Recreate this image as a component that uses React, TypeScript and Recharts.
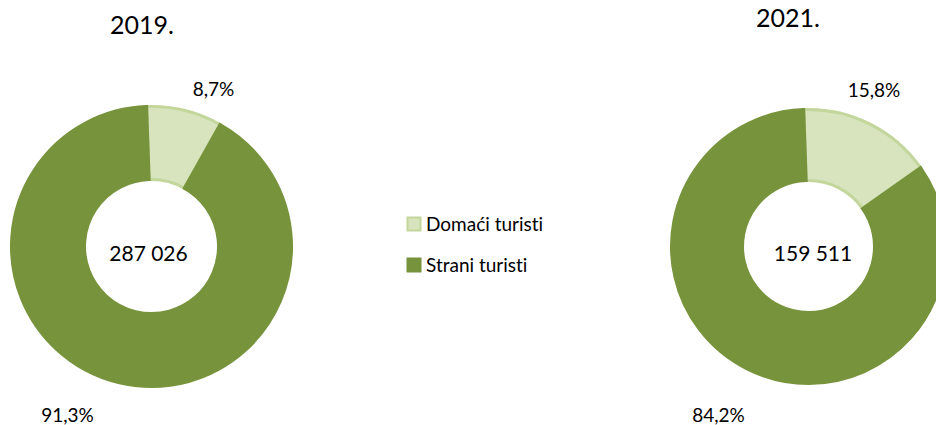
import React from 'react';
import { PieChart, Pie, Cell, Legend } from 'recharts';

const categories = ['Domaći turisti', 'Strani turisti'];
const years = ['2019.', '2021.'];
const share2019 = [8.7, 91.3];
const share2021 = [15.8, 84.2];
const totals = ['287 026', '159 511'];

const FILLS = ['#d7e4bd', '#77933c'];
const STROKES = ['#c3d69b', '#77933c'];
const FONT = 'Lato, "Open Sans", sans-serif';
const TEXT_STYLE: React.CSSProperties = { fontVariantLigatures: 'none' };

const data2019 = categories.map((name, i) => ({ name, value: share2019[i] }));
const data2021 = categories.map((name, i) => ({ name, value: share2021[i] }));

const W = 936;
const H = 425;

// layout
const PIE1 = { cx: 151.5, cy: 246.5 };
const PIE2 = { cx: 808.5, cy: 246.5 };
const labelOffsets2019 = [
  [62, -151],
  [-84, 175],
];
const labelOffsets2021 = [
  [65.5, -150],
  [-90, 175],
];

const fmt = (v: number) => v.toFixed(1).replace('.', ',') + '%';

const makeLabel = (offsets: number[][]) => (props: any) => {
  const { cx, cy, index, value } = props;
  const [dx, dy] = offsets[index];
  return (
    <text
      x={cx + dx}
      y={cy + dy}
      textAnchor="middle"
      fontSize={19}
      fontFamily={FONT}
      fill="#000"
      style={TEXT_STYLE}
    >
      {fmt(value)}
    </text>
  );
};

const LegendContent = () => (
  <svg width={240} height={80} style={{ display: 'block', overflow: 'visible' }}>
    {categories.map((name, i) => (
      <g key={name}>
        <rect
          x={1.5}
          y={1.5 + i * 41}
          width={13}
          height={13}
          fill={FILLS[i]}
          stroke={STROKES[i]}
          strokeWidth={2}
        />
        <text x={20} y={14.5 + i * 41} fontSize={19} fontFamily={FONT} fill="#000" style={TEXT_STYLE}>
          {name}
        </text>
      </g>
    ))}
  </svg>
);

export default function App() {
  return (
    <div style={{ position: 'fixed', left: 0, top: 0, width: W, height: H, background: '#fff' }}>
      <PieChart width={W} height={H} margin={{ top: 0, right: 0, bottom: 0, left: 0 }}>
        <Pie
          data={data2019}
          dataKey="value"
          nameKey="name"
          cx={PIE1.cx}
          cy={PIE1.cy}
          innerRadius={67}
          outerRadius={140}
          startAngle={92}
          endAngle={-268}
          isAnimationActive={false}
          labelLine={false}
          label={makeLabel(labelOffsets2019)}
        >
          {data2019.map((d, i) => (
            <Cell key={d.name} fill={FILLS[i]} stroke={STROKES[i]} strokeWidth={3} />
          ))}
        </Pie>
        <Pie
          data={data2021}
          dataKey="value"
          nameKey="name"
          cx={PIE2.cx}
          cy={PIE2.cy}
          innerRadius={66}
          outerRadius={137}
          startAngle={92}
          endAngle={-268}
          isAnimationActive={false}
          labelLine={false}
          label={makeLabel(labelOffsets2021)}
        >
          {data2021.map((d, i) => (
            <Cell key={d.name} fill={FILLS[i]} stroke={STROKES[i]} strokeWidth={3} />
          ))}
        </Pie>
        <Legend
          content={<LegendContent />}
          wrapperStyle={{ position: 'absolute', left: 406, top: 216, width: 240, height: 80 }}
        />
      </PieChart>
      <svg width={W} height={H} style={{ position: 'absolute', left: 0, top: 0, pointerEvents: 'none' }}>
        <text x={142} y={34} textAnchor="middle" fontSize={25} fontFamily={FONT} fill="#000" style={TEXT_STYLE}>
          {years[0]}
        </text>
        <text x={788} y={27} textAnchor="middle" fontSize={25} fontFamily={FONT} fill="#000" style={TEXT_STYLE}>
          {years[1]}
        </text>
        <text x={PIE1.cx - 3} y={PIE1.cy + 14} textAnchor="middle" fontSize={21} fontFamily={FONT} fill="#000" style={TEXT_STYLE}>
          {totals[0]}
        </text>
        <text x={PIE2.cx + 4.5} y={PIE2.cy + 14} textAnchor="middle" fontSize={21} fontFamily={FONT} fill="#000" style={TEXT_STYLE}>
          {totals[1]}
        </text>
      </svg>
    </div>
  );
}
